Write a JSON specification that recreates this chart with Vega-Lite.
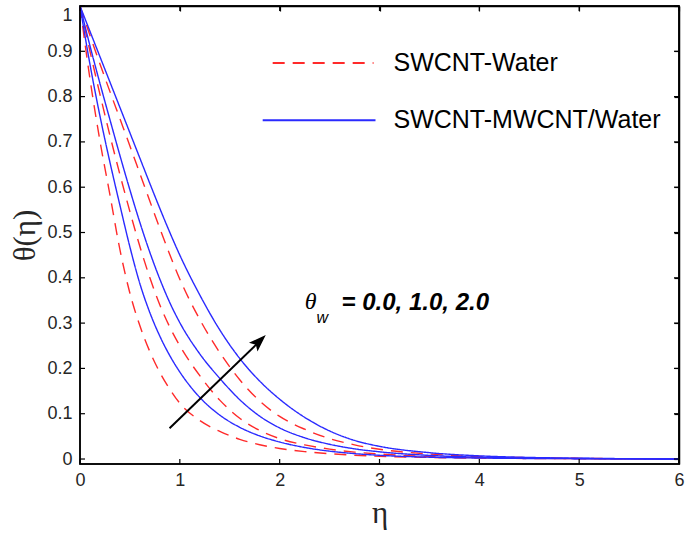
{
  "$schema": "https://vega.github.io/schema/vega-lite/v6.json",
  "width": 599,
  "height": 458,
  "autosize": {"type": "none"},
  "padding": {"left": 80, "top": 6, "right": 6, "bottom": 71},
  "background": "white",
  "config": {"view": {"stroke": "#000000", "strokeWidth": 1.5}},
  "datasets": {
    "xticks": [{"v":0},{"v":1},{"v":2},{"v":3},{"v":4},{"v":5},{"v":6}],
    "yticks": [{"v":0},{"v":0.1},{"v":0.2},{"v":0.3},{"v":0.4},{"v":0.5},{"v":0.6},{"v":0.7},{"v":0.8},{"v":0.9},{"v":1}]
  },
  "data": {"values": [
    {"eta":0,"theta":1,"fluid":"SWCNT-Water","tw":0},
    {"eta":0.1,"theta":0.839,"fluid":"SWCNT-Water","tw":0},
    {"eta":0.2,"theta":0.702,"fluid":"SWCNT-Water","tw":0},
    {"eta":0.3,"theta":0.583,"fluid":"SWCNT-Water","tw":0},
    {"eta":0.4,"theta":0.462,"fluid":"SWCNT-Water","tw":0},
    {"eta":0.5,"theta":0.366,"fluid":"SWCNT-Water","tw":0},
    {"eta":0.6,"theta":0.294,"fluid":"SWCNT-Water","tw":0},
    {"eta":0.7,"theta":0.237,"fluid":"SWCNT-Water","tw":0},
    {"eta":0.8,"theta":0.191,"fluid":"SWCNT-Water","tw":0},
    {"eta":0.9,"theta":0.154,"fluid":"SWCNT-Water","tw":0},
    {"eta":1.0,"theta":0.123,"fluid":"SWCNT-Water","tw":0},
    {"eta":1.2,"theta":0.085,"fluid":"SWCNT-Water","tw":0},
    {"eta":1.4,"theta":0.061,"fluid":"SWCNT-Water","tw":0},
    {"eta":1.6,"theta":0.0435,"fluid":"SWCNT-Water","tw":0},
    {"eta":1.8,"theta":0.0316,"fluid":"SWCNT-Water","tw":0},
    {"eta":2.0,"theta":0.0233,"fluid":"SWCNT-Water","tw":0},
    {"eta":2.25,"theta":0.0163,"fluid":"SWCNT-Water","tw":0},
    {"eta":2.5,"theta":0.0117,"fluid":"SWCNT-Water","tw":0},
    {"eta":2.75,"theta":0.0084,"fluid":"SWCNT-Water","tw":0},
    {"eta":3.0,"theta":0.006,"fluid":"SWCNT-Water","tw":0},
    {"eta":3.5,"theta":0.0035,"fluid":"SWCNT-Water","tw":0},
    {"eta":4.0,"theta":0.002,"fluid":"SWCNT-Water","tw":0},
    {"eta":4.5,"theta":0.0012,"fluid":"SWCNT-Water","tw":0},
    {"eta":5.0,"theta":0.0007,"fluid":"SWCNT-Water","tw":0},
    {"eta":5.5,"theta":0.0003,"fluid":"SWCNT-Water","tw":0},
    {"eta":6.0,"theta":0,"fluid":"SWCNT-Water","tw":0},

    {"eta":0,"theta":1,"fluid":"SWCNT-Water","tw":1},
    {"eta":0.1,"theta":0.900,"fluid":"SWCNT-Water","tw":1},
    {"eta":0.2,"theta":0.805,"fluid":"SWCNT-Water","tw":1},
    {"eta":0.3,"theta":0.714,"fluid":"SWCNT-Water","tw":1},
    {"eta":0.4,"theta":0.628,"fluid":"SWCNT-Water","tw":1},
    {"eta":0.5,"theta":0.546,"fluid":"SWCNT-Water","tw":1},
    {"eta":0.6,"theta":0.469,"fluid":"SWCNT-Water","tw":1},
    {"eta":0.7,"theta":0.400,"fluid":"SWCNT-Water","tw":1},
    {"eta":0.8,"theta":0.340,"fluid":"SWCNT-Water","tw":1},
    {"eta":0.9,"theta":0.291,"fluid":"SWCNT-Water","tw":1},
    {"eta":1.0,"theta":0.250,"fluid":"SWCNT-Water","tw":1},
    {"eta":1.2,"theta":0.184,"fluid":"SWCNT-Water","tw":1},
    {"eta":1.4,"theta":0.130,"fluid":"SWCNT-Water","tw":1},
    {"eta":1.6,"theta":0.090,"fluid":"SWCNT-Water","tw":1},
    {"eta":1.8,"theta":0.063,"fluid":"SWCNT-Water","tw":1},
    {"eta":2.0,"theta":0.045,"fluid":"SWCNT-Water","tw":1},
    {"eta":2.25,"theta":0.0313,"fluid":"SWCNT-Water","tw":1},
    {"eta":2.5,"theta":0.0218,"fluid":"SWCNT-Water","tw":1},
    {"eta":2.75,"theta":0.0153,"fluid":"SWCNT-Water","tw":1},
    {"eta":3.0,"theta":0.0111,"fluid":"SWCNT-Water","tw":1},
    {"eta":3.5,"theta":0.0055,"fluid":"SWCNT-Water","tw":1},
    {"eta":4.0,"theta":0.003,"fluid":"SWCNT-Water","tw":1},
    {"eta":4.5,"theta":0.0017,"fluid":"SWCNT-Water","tw":1},
    {"eta":5.0,"theta":0.001,"fluid":"SWCNT-Water","tw":1},
    {"eta":5.5,"theta":0.0004,"fluid":"SWCNT-Water","tw":1},
    {"eta":6.0,"theta":0,"fluid":"SWCNT-Water","tw":1},

    {"eta":0,"theta":1,"fluid":"SWCNT-Water","tw":2},
    {"eta":0.1,"theta":0.935,"fluid":"SWCNT-Water","tw":2},
    {"eta":0.2,"theta":0.872,"fluid":"SWCNT-Water","tw":2},
    {"eta":0.3,"theta":0.811,"fluid":"SWCNT-Water","tw":2},
    {"eta":0.4,"theta":0.751,"fluid":"SWCNT-Water","tw":2},
    {"eta":0.5,"theta":0.691,"fluid":"SWCNT-Water","tw":2},
    {"eta":0.6,"theta":0.630,"fluid":"SWCNT-Water","tw":2},
    {"eta":0.7,"theta":0.569,"fluid":"SWCNT-Water","tw":2},
    {"eta":0.8,"theta":0.509,"fluid":"SWCNT-Water","tw":2},
    {"eta":0.9,"theta":0.451,"fluid":"SWCNT-Water","tw":2},
    {"eta":1.0,"theta":0.397,"fluid":"SWCNT-Water","tw":2},
    {"eta":1.2,"theta":0.308,"fluid":"SWCNT-Water","tw":2},
    {"eta":1.4,"theta":0.235,"fluid":"SWCNT-Water","tw":2},
    {"eta":1.6,"theta":0.175,"fluid":"SWCNT-Water","tw":2},
    {"eta":1.8,"theta":0.128,"fluid":"SWCNT-Water","tw":2},
    {"eta":2.0,"theta":0.094,"fluid":"SWCNT-Water","tw":2},
    {"eta":2.25,"theta":0.0658,"fluid":"SWCNT-Water","tw":2},
    {"eta":2.5,"theta":0.045,"fluid":"SWCNT-Water","tw":2},
    {"eta":2.75,"theta":0.0313,"fluid":"SWCNT-Water","tw":2},
    {"eta":3.0,"theta":0.0215,"fluid":"SWCNT-Water","tw":2},
    {"eta":3.5,"theta":0.011,"fluid":"SWCNT-Water","tw":2},
    {"eta":4.0,"theta":0.0055,"fluid":"SWCNT-Water","tw":2},
    {"eta":4.5,"theta":0.003,"fluid":"SWCNT-Water","tw":2},
    {"eta":5.0,"theta":0.0015,"fluid":"SWCNT-Water","tw":2},
    {"eta":5.5,"theta":0.0006,"fluid":"SWCNT-Water","tw":2},
    {"eta":6.0,"theta":0,"fluid":"SWCNT-Water","tw":2},

    {"eta":0,"theta":1,"fluid":"SWCNT-MWCNT/Water","tw":0},
    {"eta":0.1,"theta":0.871,"fluid":"SWCNT-MWCNT/Water","tw":0},
    {"eta":0.2,"theta":0.757,"fluid":"SWCNT-MWCNT/Water","tw":0},
    {"eta":0.3,"theta":0.655,"fluid":"SWCNT-MWCNT/Water","tw":0},
    {"eta":0.4,"theta":0.560,"fluid":"SWCNT-MWCNT/Water","tw":0},
    {"eta":0.5,"theta":0.468,"fluid":"SWCNT-MWCNT/Water","tw":0},
    {"eta":0.6,"theta":0.387,"fluid":"SWCNT-MWCNT/Water","tw":0},
    {"eta":0.7,"theta":0.323,"fluid":"SWCNT-MWCNT/Water","tw":0},
    {"eta":0.8,"theta":0.271,"fluid":"SWCNT-MWCNT/Water","tw":0},
    {"eta":0.9,"theta":0.228,"fluid":"SWCNT-MWCNT/Water","tw":0},
    {"eta":1.0,"theta":0.192,"fluid":"SWCNT-MWCNT/Water","tw":0},
    {"eta":1.2,"theta":0.136,"fluid":"SWCNT-MWCNT/Water","tw":0},
    {"eta":1.4,"theta":0.097,"fluid":"SWCNT-MWCNT/Water","tw":0},
    {"eta":1.6,"theta":0.070,"fluid":"SWCNT-MWCNT/Water","tw":0},
    {"eta":1.8,"theta":0.051,"fluid":"SWCNT-MWCNT/Water","tw":0},
    {"eta":2.0,"theta":0.0376,"fluid":"SWCNT-MWCNT/Water","tw":0},
    {"eta":2.25,"theta":0.0255,"fluid":"SWCNT-MWCNT/Water","tw":0},
    {"eta":2.5,"theta":0.0174,"fluid":"SWCNT-MWCNT/Water","tw":0},
    {"eta":2.75,"theta":0.0119,"fluid":"SWCNT-MWCNT/Water","tw":0},
    {"eta":3.0,"theta":0.0082,"fluid":"SWCNT-MWCNT/Water","tw":0},
    {"eta":3.5,"theta":0.004,"fluid":"SWCNT-MWCNT/Water","tw":0},
    {"eta":4.0,"theta":0.0022,"fluid":"SWCNT-MWCNT/Water","tw":0},
    {"eta":4.5,"theta":0.0012,"fluid":"SWCNT-MWCNT/Water","tw":0},
    {"eta":5.0,"theta":0.0007,"fluid":"SWCNT-MWCNT/Water","tw":0},
    {"eta":5.5,"theta":0.0003,"fluid":"SWCNT-MWCNT/Water","tw":0},
    {"eta":6.0,"theta":0,"fluid":"SWCNT-MWCNT/Water","tw":0},

    {"eta":0,"theta":1,"fluid":"SWCNT-MWCNT/Water","tw":1},
    {"eta":0.1,"theta":0.912,"fluid":"SWCNT-MWCNT/Water","tw":1},
    {"eta":0.2,"theta":0.829,"fluid":"SWCNT-MWCNT/Water","tw":1},
    {"eta":0.3,"theta":0.749,"fluid":"SWCNT-MWCNT/Water","tw":1},
    {"eta":0.4,"theta":0.670,"fluid":"SWCNT-MWCNT/Water","tw":1},
    {"eta":0.5,"theta":0.594,"fluid":"SWCNT-MWCNT/Water","tw":1},
    {"eta":0.6,"theta":0.522,"fluid":"SWCNT-MWCNT/Water","tw":1},
    {"eta":0.7,"theta":0.456,"fluid":"SWCNT-MWCNT/Water","tw":1},
    {"eta":0.8,"theta":0.397,"fluid":"SWCNT-MWCNT/Water","tw":1},
    {"eta":0.9,"theta":0.345,"fluid":"SWCNT-MWCNT/Water","tw":1},
    {"eta":1.0,"theta":0.301,"fluid":"SWCNT-MWCNT/Water","tw":1},
    {"eta":1.2,"theta":0.232,"fluid":"SWCNT-MWCNT/Water","tw":1},
    {"eta":1.4,"theta":0.178,"fluid":"SWCNT-MWCNT/Water","tw":1},
    {"eta":1.6,"theta":0.131,"fluid":"SWCNT-MWCNT/Water","tw":1},
    {"eta":1.8,"theta":0.0946,"fluid":"SWCNT-MWCNT/Water","tw":1},
    {"eta":2.0,"theta":0.0686,"fluid":"SWCNT-MWCNT/Water","tw":1},
    {"eta":2.25,"theta":0.0469,"fluid":"SWCNT-MWCNT/Water","tw":1},
    {"eta":2.5,"theta":0.0325,"fluid":"SWCNT-MWCNT/Water","tw":1},
    {"eta":2.75,"theta":0.0225,"fluid":"SWCNT-MWCNT/Water","tw":1},
    {"eta":3.0,"theta":0.0159,"fluid":"SWCNT-MWCNT/Water","tw":1},
    {"eta":3.5,"theta":0.008,"fluid":"SWCNT-MWCNT/Water","tw":1},
    {"eta":4.0,"theta":0.004,"fluid":"SWCNT-MWCNT/Water","tw":1},
    {"eta":4.5,"theta":0.002,"fluid":"SWCNT-MWCNT/Water","tw":1},
    {"eta":5.0,"theta":0.0012,"fluid":"SWCNT-MWCNT/Water","tw":1},
    {"eta":5.5,"theta":0.0005,"fluid":"SWCNT-MWCNT/Water","tw":1},
    {"eta":6.0,"theta":0,"fluid":"SWCNT-MWCNT/Water","tw":1},

    {"eta":0,"theta":1,"fluid":"SWCNT-MWCNT/Water","tw":2},
    {"eta":0.1,"theta":0.944,"fluid":"SWCNT-MWCNT/Water","tw":2},
    {"eta":0.2,"theta":0.888,"fluid":"SWCNT-MWCNT/Water","tw":2},
    {"eta":0.3,"theta":0.832,"fluid":"SWCNT-MWCNT/Water","tw":2},
    {"eta":0.4,"theta":0.776,"fluid":"SWCNT-MWCNT/Water","tw":2},
    {"eta":0.5,"theta":0.720,"fluid":"SWCNT-MWCNT/Water","tw":2},
    {"eta":0.6,"theta":0.664,"fluid":"SWCNT-MWCNT/Water","tw":2},
    {"eta":0.7,"theta":0.608,"fluid":"SWCNT-MWCNT/Water","tw":2},
    {"eta":0.8,"theta":0.553,"fluid":"SWCNT-MWCNT/Water","tw":2},
    {"eta":0.9,"theta":0.500,"fluid":"SWCNT-MWCNT/Water","tw":2},
    {"eta":1.0,"theta":0.450,"fluid":"SWCNT-MWCNT/Water","tw":2},
    {"eta":1.2,"theta":0.362,"fluid":"SWCNT-MWCNT/Water","tw":2},
    {"eta":1.4,"theta":0.285,"fluid":"SWCNT-MWCNT/Water","tw":2},
    {"eta":1.6,"theta":0.222,"fluid":"SWCNT-MWCNT/Water","tw":2},
    {"eta":1.8,"theta":0.172,"fluid":"SWCNT-MWCNT/Water","tw":2},
    {"eta":2.0,"theta":0.132,"fluid":"SWCNT-MWCNT/Water","tw":2},
    {"eta":2.25,"theta":0.092,"fluid":"SWCNT-MWCNT/Water","tw":2},
    {"eta":2.5,"theta":0.062,"fluid":"SWCNT-MWCNT/Water","tw":2},
    {"eta":2.75,"theta":0.041,"fluid":"SWCNT-MWCNT/Water","tw":2},
    {"eta":3.0,"theta":0.028,"fluid":"SWCNT-MWCNT/Water","tw":2},
    {"eta":3.5,"theta":0.014,"fluid":"SWCNT-MWCNT/Water","tw":2},
    {"eta":4.0,"theta":0.007,"fluid":"SWCNT-MWCNT/Water","tw":2},
    {"eta":4.5,"theta":0.0035,"fluid":"SWCNT-MWCNT/Water","tw":2},
    {"eta":5.0,"theta":0.0018,"fluid":"SWCNT-MWCNT/Water","tw":2},
    {"eta":5.5,"theta":0.0007,"fluid":"SWCNT-MWCNT/Water","tw":2},
    {"eta":6.0,"theta":0,"fluid":"SWCNT-MWCNT/Water","tw":2}
  ]},
  "resolve": {"axis": {"x": "independent", "y": "independent"}},
  "layer": [
    {
      "mark": {"type": "line", "strokeWidth": 1.4, "interpolate": "monotone"},
      "encoding": {
        "x": {"field": "eta", "type": "quantitative",
              "scale": {"domain": [0, 6], "nice": false, "zero": false},
              "axis": {"orient": "bottom", "values": [0,1,2,3,4,5,6], "format": "~g", "grid": false, "domain": false, "ticks": false, "labelPadding": 7, "labelFlush": false,
                       "labelFont": "Liberation Sans", "labelFontSize": 18, "labelColor": "#262626",
                       "title": "η", "titlePadding": 9, "titleFont": "Liberation Serif", "titleFontSize": 31, "titleFontWeight": "normal", "titleColor": "#262626"}},
        "y": {"field": "theta", "type": "quantitative",
              "scale": {"domain": [-0.011, 1], "nice": false, "zero": false},
              "axis": {"orient": "left", "values": [0,0.1,0.2,0.3,0.4,0.5,0.6,0.7,0.8,0.9,1], "format": "~g", "grid": false, "domain": false, "ticks": false, "labelPadding": 8, "labelFlush": true,
                       "labelFont": "Liberation Sans", "labelFontSize": 18, "labelColor": "#262626",
                       "title": "θ(η)", "titlePadding": 5, "titleFont": "Liberation Serif", "titleFontSize": 31, "titleFontWeight": "normal", "titleColor": "#262626"}},
        "color": {"field": "fluid", "type": "nominal",
                  "scale": {"domain": ["SWCNT-Water", "SWCNT-MWCNT/Water"], "range": ["#ff2a2a", "#2a2aff"]},
                  "legend": null},
        "strokeDash": {"field": "fluid", "type": "nominal",
                       "scale": {"domain": ["SWCNT-Water", "SWCNT-MWCNT/Water"], "range": [[12, 8], [1, 0]]},
                       "legend": null},
        "detail": {"field": "tw", "type": "nominal"}
      }
    },
    {
      "mark": {"type": "point", "opacity": 0},
      "encoding": {
        "x": {"field": "eta", "type": "quantitative",
              "scale": {"domain": [0, 6], "nice": false, "zero": false},
              "axis": {"orient": "top", "values": [0,1,2,3,4,5,6], "grid": false, "labels": false, "domain": true, "domainColor": "#000000", "domainWidth": 1.5, "ticks": true, "tickSize": -5, "tickColor": "#000000", "tickWidth": 1.2, "title": null}},
        "y": {"field": "theta", "type": "quantitative",
              "scale": {"domain": [-0.011, 1], "nice": false, "zero": false},
              "axis": {"orient": "right", "values": [0,0.1,0.2,0.3,0.4,0.5,0.6,0.7,0.8,0.9,1], "grid": false, "labels": false, "domain": true, "domainColor": "#000000", "domainWidth": 1.5, "ticks": true, "tickSize": -5, "tickColor": "#000000", "tickWidth": 1.2, "title": null}}
      }
    },
    {
      "data": {"values": [{}]},
      "mark": {"type": "rect", "filled": false, "color": "#000000", "strokeWidth": 1.5},
      "encoding": {
        "x": {"datum": 0, "type": "quantitative", "axis": null}, "x2": {"datum": 6},
        "y": {"datum": -0.011, "type": "quantitative", "axis": null}, "y2": {"datum": 1}
      }
    },
    {
      "data": {"name": "xticks"},
      "mark": {"type": "rule", "color": "#000000", "strokeWidth": 1.2},
      "encoding": {
        "x": {"field": "v", "type": "quantitative", "axis": null},
        "y": {"datum": -0.011, "type": "quantitative", "axis": null}, "y2": {"datum": 0.0}
      }
    },
    {
      "data": {"name": "xticks"},
      "mark": {"type": "rule", "color": "#000000", "strokeWidth": 1.2},
      "encoding": {
        "x": {"field": "v", "type": "quantitative", "axis": null},
        "y": {"datum": 1, "type": "quantitative", "axis": null}, "y2": {"datum": 0.989}
      }
    },
    {
      "data": {"name": "yticks"},
      "mark": {"type": "rule", "color": "#000000", "strokeWidth": 1.2},
      "encoding": {
        "y": {"field": "v", "type": "quantitative", "axis": null},
        "x": {"datum": 0, "type": "quantitative", "axis": null}, "x2": {"datum": 0.05}
      }
    },
    {
      "data": {"name": "yticks"},
      "mark": {"type": "rule", "color": "#000000", "strokeWidth": 1.2},
      "encoding": {
        "y": {"field": "v", "type": "quantitative", "axis": null},
        "x": {"datum": 5.95, "type": "quantitative", "axis": null}, "x2": {"datum": 6}
      }
    },
    {
      "data": {"values": [{}]},
      "mark": {"type": "rule", "color": "#ff2a2a", "strokeWidth": 2, "strokeDash": [12, 8]},
      "encoding": {
        "x": {"datum": 1.93, "type": "quantitative", "axis": null},
        "x2": {"datum": 2.94},
        "y": {"datum": 0.874, "type": "quantitative", "axis": null}
      }
    },
    {
      "data": {"values": [{}]},
      "mark": {"type": "rule", "color": "#2a2aff", "strokeWidth": 2},
      "encoding": {
        "x": {"datum": 1.83, "type": "quantitative", "axis": null},
        "x2": {"datum": 2.96},
        "y": {"datum": 0.748, "type": "quantitative", "axis": null}
      }
    },
    {
      "data": {"values": [{}]},
      "mark": {"type": "text", "text": "SWCNT-Water", "font": "Liberation Sans", "fontSize": 25, "align": "left", "baseline": "middle", "color": "black"},
      "encoding": {
        "x": {"datum": 3.14, "type": "quantitative", "axis": null},
        "y": {"datum": 0.874, "type": "quantitative", "axis": null}
      }
    },
    {
      "data": {"values": [{}]},
      "mark": {"type": "text", "text": "SWCNT-MWCNT/Water", "font": "Liberation Sans", "fontSize": 25, "align": "left", "baseline": "middle", "color": "black"},
      "encoding": {
        "x": {"datum": 3.14, "type": "quantitative", "axis": null},
        "y": {"datum": 0.748, "type": "quantitative", "axis": null}
      }
    },
    {
      "data": {"values": [{}]},
      "mark": {"type": "rule", "color": "black", "strokeWidth": 2},
      "encoding": {
        "x": {"datum": 0.897, "type": "quantitative", "axis": null},
        "y": {"datum": 0.068, "type": "quantitative", "axis": null},
        "x2": {"datum": 1.8},
        "y2": {"datum": 0.26}
      }
    },
    {
      "data": {"values": [{}]},
      "mark": {"type": "point", "shape": "M0,-1L0.6,0.7L0,0.35L-0.6,0.7Z", "filled": true, "color": "black", "opacity": 1, "size": 420, "angle": 46},
      "encoding": {
        "x": {"datum": 1.787, "type": "quantitative", "axis": null},
        "y": {"datum": 0.258, "type": "quantitative", "axis": null}
      }
    },
    {
      "data": {"values": [{}]},
      "mark": {"type": "text", "text": "θ", "font": "Liberation Serif", "fontStyle": "italic", "fontSize": 24, "align": "left", "baseline": "alphabetic", "color": "black"},
      "encoding": {
        "x": {"datum": 2.25, "type": "quantitative", "axis": null},
        "y": {"datum": 0.331, "type": "quantitative", "axis": null}
      }
    },
    {
      "data": {"values": [{}]},
      "mark": {"type": "text", "text": "w", "font": "Liberation Sans", "fontStyle": "italic", "fontSize": 16, "align": "left", "baseline": "alphabetic", "color": "black"},
      "encoding": {
        "x": {"datum": 2.37, "type": "quantitative", "axis": null},
        "y": {"datum": 0.300, "type": "quantitative", "axis": null}
      }
    },
    {
      "data": {"values": [{}]},
      "mark": {"type": "text", "text": "= 0.0, 1.0, 2.0", "font": "Liberation Sans", "fontStyle": "italic", "fontWeight": "bold", "fontSize": 24, "align": "left", "baseline": "alphabetic", "color": "black"},
      "encoding": {
        "x": {"datum": 2.62, "type": "quantitative", "axis": null},
        "y": {"datum": 0.329, "type": "quantitative", "axis": null}
      }
    }
  ]
}
